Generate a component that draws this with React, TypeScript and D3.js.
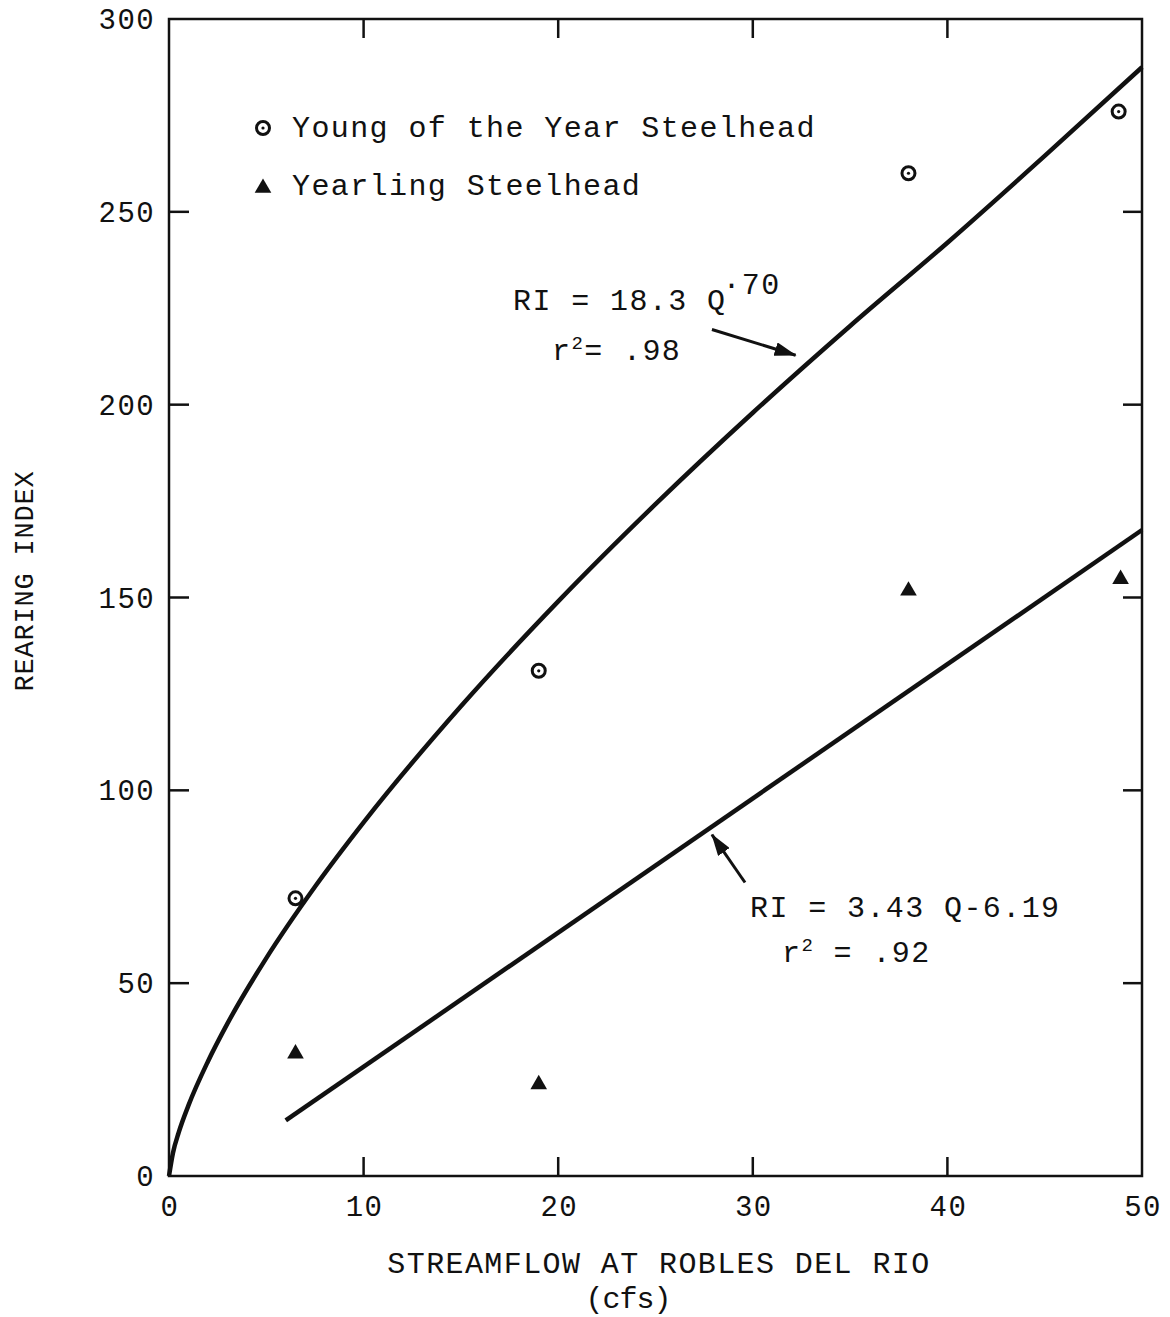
import React from 'react';
import * as d3 from 'd3';

// Observed data
const youngQ = [6.5, 19, 38, 48.8];
const youngRI = [72, 131, 260, 276];
const yearlingQ = [6.5, 19, 38, 48.9];
const yearlingRI = [32, 24, 152, 155];

// Fitted curves
const powerFitQ = [0, 0.2, 0.5, 1, 2, 3, 5, 7.5, 10, 15, 20, 25, 30, 35, 40, 45, 50];
const powerFitRI = [0, 5.9, 11.3, 18.3, 29.7, 39.5, 56.5, 75.0, 91.7, 121.8, 149.0, 174.2, 197.9, 220.4, 242.0, 264.5, 287.5];
const linearFitQ = [6, 50];
const linearFitRI = [14.4, 167.5];

const xTicks = [0, 10, 20, 30, 40, 50];
const yTicks = [0, 50, 100, 150, 200, 250, 300];

const legendLabels = ['Young of the Year Steelhead', 'Yearling Steelhead'];

const FONT = "'Liberation Mono', 'Courier New', monospace";

export default function App() {
  const W = 1170, H = 1317;
  const x = d3.scaleLinear().domain([0, 50]).range([169, 1142]);
  const y = d3.scaleLinear().domain([0, 300]).range([1176, 19]);

  const line = d3.line<[number, number]>()
    .x(d => x(d[0]))
    .y(d => y(d[1]))
    .curve(d3.curveMonotoneX);

  const powerPts = powerFitQ.map((q, i) => [q, powerFitRI[i]] as [number, number]);
  const linPts = linearFitQ.map((q, i) => [q, linearFitRI[i]] as [number, number]);

  const triangle = d3.symbol().type(d3.symbolTriangle).size(120)();

  const arrows = [
    { from: [27.9, 219.5], to: [32.2, 212.8] },
    { from: [29.6, 76.1], to: [27.9, 88.5] },
  ];

  const textStyle = { fontFamily: FONT, fontSize: 30, letterSpacing: 1.4, fill: '#111' } as any;
  const tickStyle = { fontFamily: FONT, fontSize: 29, letterSpacing: 1.4, fill: '#111' } as any;

  return (
    <svg width={W} height={H} style={{ position: 'absolute', left: 0, top: 0, background: '#fff' }}>
      <defs>
        <marker id="ah" viewBox="0 0 22 14" refX="21" refY="7" markerWidth="22" markerHeight="14" markerUnits="userSpaceOnUse" orient="auto">
          <path d="M0,0 L22,7 L0,14 Z" fill="#111" />
        </marker>
      </defs>
      <rect x={0} y={0} width={W} height={H} fill="#fff" />

      {/* frame */}
      <rect x={x(0)} y={y(300)} width={x(50) - x(0)} height={y(0) - y(300)} fill="none" stroke="#111" strokeWidth={2.5} />

      {/* ticks */}
      {xTicks.slice(1, -1).map(t => (
        <g key={'xt' + t}>
          <line x1={x(t)} x2={x(t)} y1={y(0)} y2={y(0) - 19} stroke="#111" strokeWidth={2.5} />
          <line x1={x(t)} x2={x(t)} y1={y(300)} y2={y(300) + 19} stroke="#111" strokeWidth={2.5} />
        </g>
      ))}
      {yTicks.slice(1, -1).map(t => (
        <g key={'yt' + t}>
          <line x1={x(0)} x2={x(0) + 20} y1={y(t)} y2={y(t)} stroke="#111" strokeWidth={2.5} />
          <line x1={x(50)} x2={x(50) - 19} y1={y(t)} y2={y(t)} stroke="#111" strokeWidth={2.5} />
        </g>
      ))}

      {/* tick labels */}
      {xTicks.map(t => (
        <text key={'xl' + t} x={x(t) + 1} y={1216} textAnchor="middle" style={tickStyle}>{t}</text>
      ))}
      {yTicks.map(t => (
        <text key={'yl' + t} x={155} y={y(t) + 10} textAnchor="end" style={tickStyle}>{t}</text>
      ))}

      {/* axis titles */}
      <text x={659} y={1273} textAnchor="middle" style={textStyle}>STREAMFLOW AT ROBLES DEL RIO</text>
      <text x={628} y={1308} textAnchor="middle" style={{ ...textStyle, letterSpacing: -1 }}>(cfs)</text>
      <text transform="translate(33,581) rotate(-90)" textAnchor="middle" style={{ ...textStyle, fontSize: 27, letterSpacing: 0.8 }}>REARING INDEX</text>

      {/* fitted curves */}
      <path d={line(powerPts) || ''} fill="none" stroke="#111" strokeWidth={4.5} />
      <path d={line(linPts) || ''} fill="none" stroke="#111" strokeWidth={4.5} />

      {/* points */}
      {youngQ.map((q, i) => (
        <g key={'yo' + i} transform={`translate(${x(q)},${y(youngRI[i])})`}>
          <circle r={6.5} fill="none" stroke="#111" strokeWidth={3} />
          <circle r={1.6} fill="#111" />
        </g>
      ))}
      {yearlingQ.map((q, i) => (
        <path key={'ye' + i} d={triangle || ''} transform={`translate(${x(q)},${y(yearlingRI[i]) + 1})`} fill="#111" />
      ))}

      {/* legend */}
      <g transform="translate(263,128)">
        <circle r={6.5} fill="none" stroke="#111" strokeWidth={3} />
        <circle r={1.6} fill="#111" />
      </g>
      <text x={292} y={137} style={textStyle}>{legendLabels[0]}</text>
      <path d={triangle || ''} transform="translate(263,188)" fill="#111" />
      <text x={292} y={195} style={textStyle}>{legendLabels[1]}</text>

      {/* annotations */}
      {arrows.map((a, i) => (
        <line key={'ar' + i} x1={x(a.from[0])} y1={y(a.from[1])} x2={x(a.to[0])} y2={y(a.to[1])} stroke="#111" strokeWidth={3} markerEnd="url(#ah)" />
      ))}
      <text x={513} y={310} style={textStyle}>RI = 18.3 Q<tspan dx={-4} dy={-16}>·70</tspan></text>
      <text x={552} y={360} style={textStyle}>r<tspan fontSize={19} dy={-11}>2</tspan><tspan dy={11}>= .98</tspan></text>

      <text x={750} y={917} style={textStyle}>RI = 3.43 Q-6.19</text>
      <text x={782} y={962} style={textStyle}>r<tspan fontSize={19} dy={-11}>2</tspan><tspan dy={11}> = .92</tspan></text>
    </svg>
  );
}
